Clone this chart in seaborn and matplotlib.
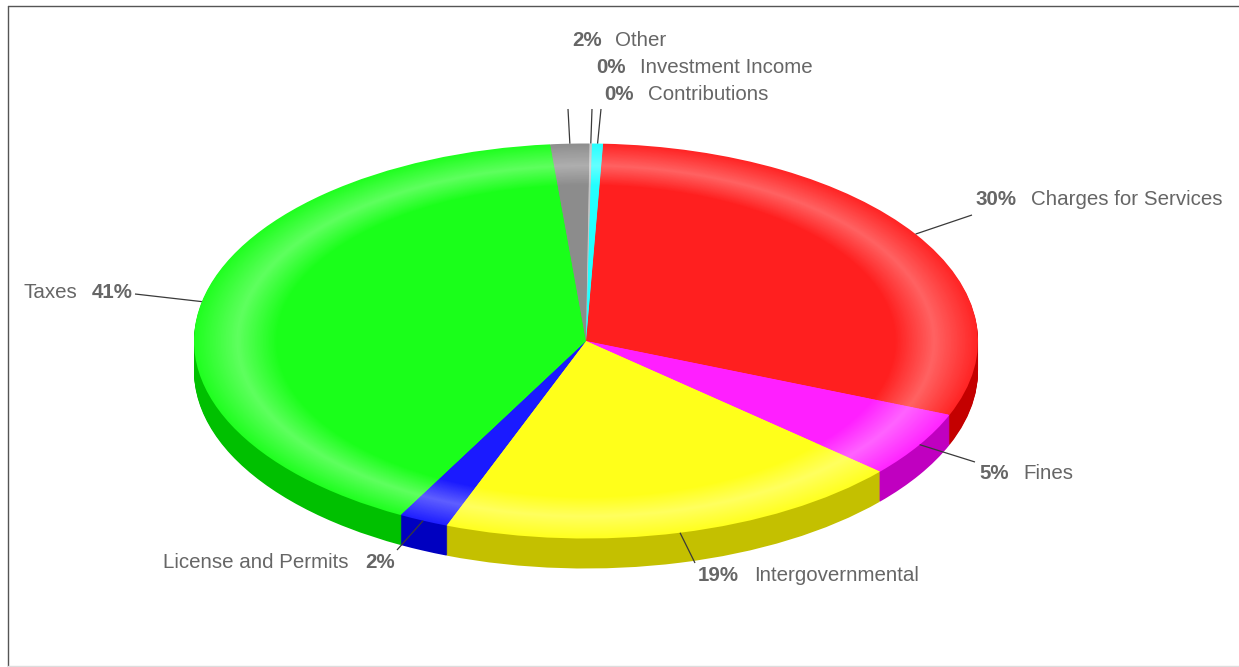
import numpy as np
import matplotlib
matplotlib.use("Agg")
import matplotlib.pyplot as plt
from matplotlib.lines import Line2D
import seaborn as sns

# Revenue sources, in percent, clockwise from the top of the pie
categories = ["Charges for Services", "Fines", "Intergovernmental", "License and Permits",
              "Taxes", "Other", "Investment Income", "Contributions"]
shares = [30.4, 5.4, 19.3, 2.05, 40.7, 1.6, 0.1, 0.45]

top_colors = ["#FF1F1F", "#FF1FFF", "#FFFF1A", "#1A1AFF", "#1AFF1A", "#8C8C8C", "#C4C4C4", "#22FFFF"]
side_colors = ["#C40000", "#C000C0", "#C4C000", "#0000C0", "#00C000", "#6E6E6E", "#9A9A9A", "#00C0C0"]

W, H = 1239, 667
CX, CY, RX, RY = 586.0, 341.0, 392.0, 197.5
DEPTH = 30
START = 87.5

sns.set_theme(style="white")
plt.rcParams["font.family"] = ["Liberation Sans", "DejaVu Sans"]

fig = plt.figure(figsize=(W / 100, H / 100), dpi=100, facecolor="white")
ax = fig.add_axes([0, 0, 1, 1])


def to_data(px, py):
    return (px - CX) / RX, (CY - py) / RY


def draw_pie(colors, radius=1.0, offset=0.0):
    ax.pie(shares, colors=colors, startangle=START, counterclock=False, radius=radius,
           center=(0, offset), normalize=True, wedgeprops=dict(linewidth=0))


# Extruded wall: darker copies stacked downwards
for step in range(DEPTH, 0, -1):
    draw_pie(side_colors, offset=-step / RY)

# Top face with a soft rounded bevel near the rim
palette = sns.color_palette(top_colors)


def blend(rgb, amount):
    return tuple(c + (1 - c) * amount for c in rgb)


PEAK = 0.89
for r in np.linspace(1.0, 0.78, 56):
    spread = 0.10 if r < PEAK else 0.12
    glow = 0.30 * max(0.0, 1 - abs(r - PEAK) / spread)
    draw_pie([blend(c, glow) for c in palette], radius=r)

ax.set_aspect("auto")
ax.set_xlim((0 - CX) / RX, (W - CX) / RX)
ax.set_ylim((CY - H) / RY, CY / RY)
ax.axis("off")

# Leader lines run from each slice's rim midpoint to its label
leader_ends = [(972, 215), (975, 462), (695, 563), (397, 550),
               (135, 294), (568, 109), (592, 109), (601, 109)]
edges = np.cumsum([0] + shares) / sum(shares) * 360
mids = np.radians(90 - START + (edges[:-1] + edges[1:]) / 2)
for mid, end in zip(mids, leader_ends):
    ex, ey = to_data(*end)
    ax.plot([np.sin(mid), ex], [np.cos(mid), ey], color="#3A3A3A", lw=0.9, solid_capstyle="butt")

# Label placement: left edge of the percent, left edge of the name, baseline
label_spots = [(975, 1031, 205), (979, 1023, 479), (698, 754, 581), (365, 163, 568),
               (92, 23, 298), (572, 615, 46), (596, 640, 73), (604, 648, 100)]
TEXT = "#666666"
for name, share, (px_pct, px_name, py) in zip(categories, shares, label_spots):
    fig.text(px_pct / W, 1 - py / H, f"{share / sum(shares) * 100:.0f}%", fontsize=14.8,
             fontweight="bold", color=TEXT, ha="left", va="baseline")
    fig.text(px_name / W, 1 - py / H, name, fontsize=14.8, color=TEXT, ha="left", va="baseline")

# Outer frame: dark on the top and left, faint along the bottom
fig.add_artist(Line2D([7.5 / W, 7.5 / W], [0, 1 - 5.5 / H], color="#555555", lw=1))
fig.add_artist(Line2D([7.5 / W, 1], [1 - 5.5 / H, 1 - 5.5 / H], color="#555555", lw=1))
fig.add_artist(Line2D([7.5 / W, 1], [1 - 666 / H, 1 - 666 / H], color="#DDDDDD", lw=1))

fig.savefig("out.png", dpi=100, facecolor="white")
